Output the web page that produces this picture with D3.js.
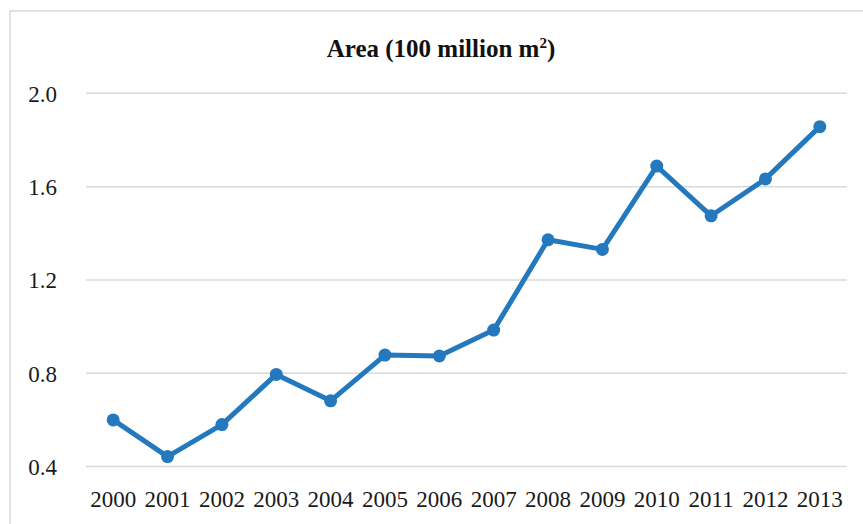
<!DOCTYPE html>
<html>
<head>
<meta charset="utf-8">
<script src="https://cdnjs.cloudflare.com/ajax/libs/d3/7.8.5/d3.min.js"></script>
<style>
  html, body { margin: 0; padding: 0; background: #fff; }
  svg { display: block; }
</style>
</head>
<body>
<svg width="863" height="524"></svg>
<script>
var years = ['2000','2001','2002','2003','2004','2005','2006','2007','2008','2009','2010','2011','2012','2013']
var area = [0.60, 0.443, 0.58, 0.795, 0.682, 0.878, 0.874, 0.985, 1.372, 1.331, 1.688, 1.475, 1.633, 1.857]
var yTicks = [0.4, 0.8, 1.2, 1.6, 2.0]

var svg = d3.select('svg'),
	font = '"Liberation Serif", "Times New Roman", serif',
	blue = '#2479be',
	plotLeft = 86, plotRight = 847, plotTop = 93.3, plotBottom = 466.6

// outer frame of the chart (runs off the right and bottom edges)
svg.append('rect')
	.attr('x', 10).attr('y', 11)
	.attr('width', 880).attr('height', 540)
	.attr('fill', 'none')
	.attr('stroke', '#d9d9d9')
	.attr('stroke-width', 1.5)

var x = d3.scaleBand().domain(years).range([plotLeft, plotRight])
var y = d3.scaleLinear().domain([0.4, 2.0]).range([plotBottom, plotTop])

// gridlines
svg.append('g').selectAll('line').data(yTicks)
	.enter().append('line')
	.attr('x1', plotLeft).attr('x2', plotRight)
	.attr('y1', function(d) { return y(d) })
	.attr('y2', function(d) { return y(d) })
	.attr('stroke', '#d9d9d9')
	.attr('stroke-width', 1.5)

// y axis labels
var yAxis = svg.append('g')
	.attr('transform', 'translate(' + (plotLeft - 29) + ',0)')
	.call(d3.axisLeft(y).tickValues(yTicks).tickFormat(d3.format('.1f')).tickSize(0).tickPadding(0))
yAxis.select('.domain').remove()
yAxis.selectAll('text')
	.attr('font-family', font)
	.attr('font-size', 23)
	.attr('fill', '#1a1a1a')
	.attr('dy', '0.34em')

// x axis labels
var xAxis = svg.append('g')
	.attr('transform', 'translate(0,' + plotBottom + ')')
	.call(d3.axisBottom(x).tickSize(0).tickPadding(24))
xAxis.select('.domain').remove()
xAxis.selectAll('text')
	.attr('font-family', font)
	.attr('font-size', 23)
	.attr('fill', '#1a1a1a')

// the line and its markers
var line = d3.line()
	.x(function(d, i) { return x(years[i]) + x.bandwidth() / 2 })
	.y(function(d) { return y(d) })

svg.append('path')
	.datum(area)
	.attr('d', line)
	.attr('fill', 'none')
	.attr('stroke', blue)
	.attr('stroke-width', 5)
	.attr('stroke-linejoin', 'round')

svg.append('g').selectAll('circle').data(area)
	.enter().append('circle')
	.attr('cx', function(d, i) { return x(years[i]) + x.bandwidth() / 2 })
	.attr('cy', function(d) { return y(d) })
	.attr('r', 6.5)
	.attr('fill', blue)

// title
var title = svg.append('text')
	.attr('x', 441).attr('y', 57)
	.attr('text-anchor', 'middle')
	.attr('font-family', font)
	.attr('font-size', 25)
	.attr('font-weight', 'bold')
	.attr('fill', '#111')
title.append('tspan').text('Area (100 million m')
title.append('tspan').attr('font-size', 15).attr('dy', -9).text('2')
title.append('tspan').attr('dy', 9).text(')')
</script>
</body>
</html>
